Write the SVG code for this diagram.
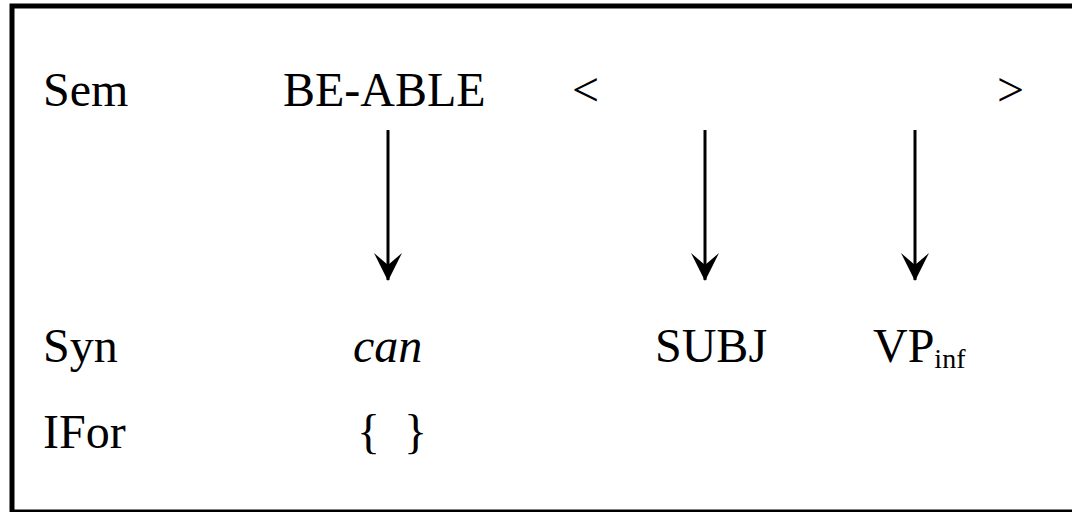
<svg xmlns="http://www.w3.org/2000/svg" width="1072" height="512" viewBox="0 0 1072 512">
  <style>
    text { font-family: 'Liberation Serif', 'Times New Roman', Times, serif; font-size: 48px; fill: #000; }
    .it { font-style: italic; }
    .sub { font-size: 28px; }
    .conn { stroke: #000; stroke-width: 3; fill: none; }
  </style>
  <defs>
    <marker id="head" markerUnits="userSpaceOnUse" markerWidth="28" markerHeight="28" viewBox="0 0 28 28" refX="27" refY="14" orient="auto">
      <path d="M0,0 L28,14 L0,28 L12,14 Z" fill="#000"/>
    </marker>
  </defs>
  <rect x="0" y="0" width="1072" height="512" fill="#fff"/>
  <!-- frame -->
  <rect x="12" y="6" width="1084" height="506" fill="none" stroke="#000" stroke-width="5"/>

  <g font-family="Liberation Serif, Times New Roman, serif">
    <!-- row labels -->
    <g id="label-sem"><text x="43" y="106">Sem</text></g>
    <g id="label-syn"><text x="43" y="362">Syn</text></g>
    <g id="label-ifor"><text x="43" y="448">IFor</text></g>

    <!-- semantic row -->
    <g id="be-able"><text x="283" y="106">BE-ABLE</text></g>
    <g id="lt"><text x="572" y="106">&lt;</text></g>
    <g id="gt"><text x="997" y="106">&gt;</text></g>

    <!-- syntactic row -->
    <g id="can"><text class="it" x="353" y="362">can</text></g>
    <g id="subj"><text x="655" y="362">SUBJ</text></g>
    <g id="vp-inf"><text x="873" y="362">VP<tspan class="sub" dy="6">inf</tspan></text></g>

    <!-- inflectional form -->
    <g id="ifor-set">
      <text x="357" y="448">{</text>
      <text x="404" y="448">}</text>
    </g>
  </g>

  <!-- connectors -->
  <g id="connectors">
    <line class="conn" x1="388" y1="130" x2="388" y2="280" marker-end="url(#head)"/>
    <line class="conn" x1="705" y1="130" x2="705" y2="280" marker-end="url(#head)"/>
    <line class="conn" x1="915" y1="130" x2="915" y2="280" marker-end="url(#head)"/>
  </g>
</svg>
